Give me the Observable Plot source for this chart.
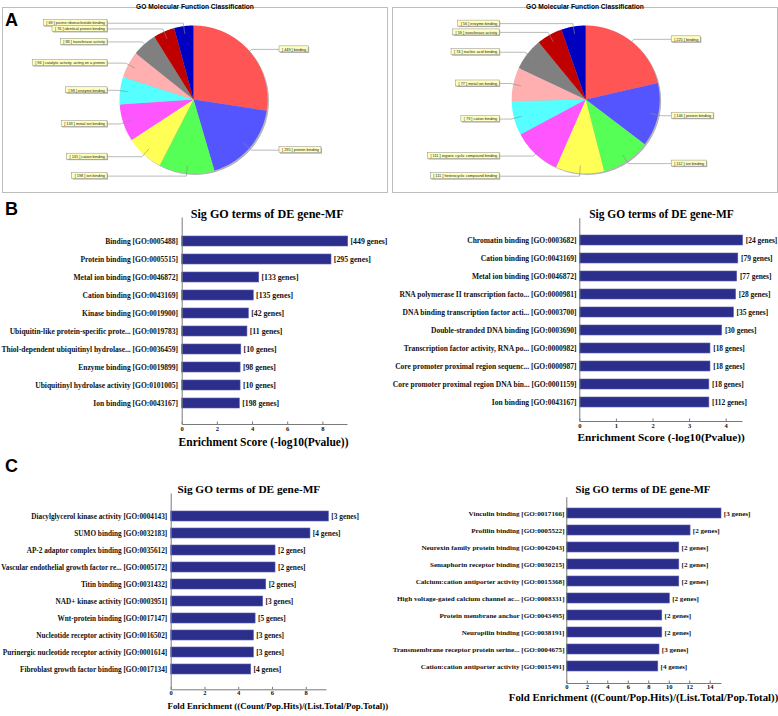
<!DOCTYPE html>
<html>
<head>
<meta charset="utf-8">
<script src="https://cdn.jsdelivr.net/npm/d3@7"></script>
<script src="https://cdn.jsdelivr.net/npm/@observablehq/plot@0.6"></script>
<style>
  body { margin: 0; background: #fff; }
  #root { position: relative; width: 778px; height: 716px; overflow: hidden; background: #fff; }
  .letter { position: absolute; font-family: "Liberation Sans", Arial, sans-serif; font-weight: bold; font-size: 18px; line-height: 18px; color: #000; }
</style>
</head>
<body>
<div id="root"></div>
<script>
// ---------- DATA ----------
const pieTitle = "GO Molecular Function Classification";
const pie1Names = ["binding", "protein binding", "ion binding", "cation binding", "metal ion binding", "enzyme binding", "catalytic activity, acting on a protein", "transferase activity", "identical protein binding", "purine ribonucleotide binding"];
const pie1Counts = [449, 295, 198, 135, 133, 98, 96, 88, 76, 69];
const pie2Names = ["binding", "protein binding", "ion binding", "heterocyclic compound binding", "organic cyclic compound binding", "cation binding", "metal ion binding", "nucleic acid binding", "transferase activity", "enzyme binding"];
const pie2Counts = [225, 146, 112, 111, 111, 79, 77, 74, 59, 56];
const pieColors = ["#ff5555", "#5555ff", "#55ff55", "#ffff55", "#ff55ff", "#55ffff", "#ffafaf", "#808080", "#c00000", "#0000c0"];

const barTitle = "Sig GO terms of DE gene-MF";
const bAxisLabel = "Enrichment Score (-log10(Pvalue))";
const cAxisLabel = "Fold Enrichment ((Count/Pop.Hits)/(List.Total/Pop.Total))";

const bLeftTerms = ["Binding [GO:0005488]", "Protein binding [GO:0005515]", "Metal ion binding [GO:0046872]", "Cation binding [GO:0043169]", "Kinase binding [GO:0019900]", "Ubiquitin-like protein-specific prote... [GO:0019783]", "Thiol-dependent ubiquitinyl hydrolase... [GO:0036459]", "Enzyme binding [GO:0019899]", "Ubiquitinyl hydrolase activity [GO:0101005]", "Ion binding [GO:0043167]"];
const bLeftScores = [9.44, 8.49, 4.38, 4.07, 3.79, 3.71, 3.36, 3.32, 3.32, 3.28];
const bLeftGenes = [449, 295, 133, 135, 42, 11, 10, 98, 10, 198];
const bLeftTicks = [0, 2, 4, 6, 8];

const bRightTerms = ["Chromatin binding [GO:0003682]", "Cation binding [GO:0043169]", "Metal ion binding [GO:0046872]", "RNA polymerase II transcription facto... [GO:0000981]", "DNA binding transcription factor acti... [GO:0003700]", "Double-stranded DNA binding [GO:0003690]", "Transcription factor activity, RNA po... [GO:0000982]", "Core promoter proximal region sequenc... [GO:0000987]", "Core promoter proximal region DNA bin... [GO:0001159]", "Ion binding [GO:0043167]"];
const bRightScores = [4.46, 4.33, 4.30, 4.27, 4.21, 3.89, 3.57, 3.57, 3.54, 3.54];
const bRightGenes = [24, 79, 77, 28, 35, 30, 18, 18, 18, 112];
const bRightTicks = [0, 1, 2, 3, 4];

const cLeftTerms = ["Diacylglycerol kinase activity [GO:0004143]", "SUMO binding [GO:0032183]", "AP-2 adaptor complex binding [GO:0035612]", "Vascular endothelial growth factor re... [GO:0005172]", "Titin binding [GO:0031432]", "NAD+ kinase activity [GO:0003951]", "Wnt-protein binding [GO:0017147]", "Nucleotide receptor activity [GO:0016502]", "Purinergic nucleotide receptor activity [GO:0001614]", "Fibroblast growth factor binding [GO:0017134]"];
const cLeftFold = [9.34, 8.25, 6.18, 6.18, 5.63, 5.45, 5.0, 4.9, 4.9, 4.74];
const cLeftGenes = [3, 4, 2, 2, 2, 3, 5, 3, 3, 4];
const cLeftTicks = [0, 2, 4, 6, 8];

const cRightTerms = ["Vinculin binding [GO:0017166]", "Profilin binding [GO:0005522]", "Neurexin family protein binding [GO:0042043]", "Semaphorin receptor binding [GO:0030215]", "Calcium:cation antiporter activity [GO:0015368]", "High voltage-gated calcium channel ac... [GO:0008331]", "Protein membrane anchor [GO:0043495]", "Neuropilin binding [GO:0038191]", "Transmembrane receptor protein serine... [GO:0004675]", "Cation:cation antiporter activity [GO:0015491]"];
const cRightFold = [15.1, 12.08, 10.98, 10.98, 10.98, 10.06, 9.32, 9.32, 9.05, 8.93];
const cRightGenes = [3, 2, 2, 2, 2, 2, 2, 2, 3, 4];
const cRightTicks = [0, 2, 4, 6, 8, 10, 12, 14];

// ---------- HELPERS ----------
const root = document.getElementById("root");
const ctx = document.createElement("canvas").getContext("2d");
function textW(s, size, family, weight) { ctx.font = `${weight} ${size}px ${family}`; return ctx.measureText(s).width; }
function fit(s, w, family, weight) { return w / textW(s, 100, family, weight) * 100; }
function place(el, left, top) {
  el.style.position = "absolute";
  el.style.left = left + "px";
  el.style.top = top + "px";
  el.style.maxWidth = "none";
  root.appendChild(el);
}
function letter(t, left, top) {
  const d = document.createElement("div");
  d.className = "letter"; d.textContent = t;
  d.style.left = left + "px"; d.style.top = top + "px";
  root.appendChild(d);
}

// ---------- PIE PANELS ----------
function piePanel(names, counts, o) {
  const R = o.R;
  const fam = '"Liberation Sans", Arial, sans-serif';
  const arcs = d3.pie().sort(null).value(d => d)(counts);
  const pts = [];
  arcs.forEach((a, i) => {
    pts.push({k: i, x: 0, y: 0});
    const n = Math.max(2, Math.ceil((a.endAngle - a.startAngle) * 60));
    for (let j = 0; j <= n; j++) {
      const t = a.startAngle + (a.endAngle - a.startAngle) * j / n;
      pts.push({k: i, x: Math.sin(t), y: Math.cos(t)});
    }
  });
  const fs = fit("[ 96 ] catalytic activity, acting on a protein", 70, fam, "normal");
  const labs = arcs.map((a, i) => {
    const m = (a.startAngle + a.endAngle) / 2;
    const s = Math.sin(m), c = Math.cos(m);
    const left = s < 0;
    const text = `[ ${counts[i]} ] ${names[i]}`;
    const bw = (textW(text, fs, fam, "normal") + 5) / R;
    const xe = (left ? -86 : 86) / R;
    const yc = 1.04 * c;
    return {k: i, s, c, text, xe, yc,
      x1: left ? xe - bw : xe, x2: left ? xe : xe + bw,
      y1: yc - 3 / R, y2: yc + 3 / R};
  });
  const lines = labs.flatMap(d => [
    {k: d.k, x: 0.9 * d.s, y: 0.9 * d.c},
    {k: d.k, x: 1.04 * d.s, y: 1.04 * d.c},
    {k: d.k, x: d.xe, y: d.yc}
  ]);
  const fx0 = o.left + o.mL, fx1 = o.left + o.width - o.mR;
  const fy0 = o.top + o.mT, fy1 = o.top + o.height - o.mB;
  const titleFs = fit(pieTitle, 118, fam, "bold");
  const p = Plot.plot({
    width: o.width, height: o.height,
    marginLeft: o.mL, marginRight: o.mR, marginTop: o.mT, marginBottom: o.mB,
    style: {background: "transparent", overflow: "visible"},
    x: {domain: [-(o.cx - fx0) / R, (fx1 - o.cx) / R], axis: null},
    y: {domain: [-(fy1 - o.cy) / R, (o.cy - fy0) / R], axis: null},
    color: {type: "ordinal", domain: d3.range(counts.length), range: pieColors},
    marks: [
      Plot.frame({stroke: "#bdbdbd"}),
      Plot.dot([{x: 0, y: 0}], {x: "x", y: "y", r: R, fill: "#b4b4b4", stroke: "none", dx: 1.5, dy: 1.5}),
      Plot.line(pts, {x: "x", y: "y", z: "k", fill: "k", stroke: "none"}),
      Plot.line(lines, {x: "x", y: "y", z: "k", stroke: "#8c8c8c", strokeWidth: 0.6}),
      Plot.rect(labs, {x1: "x1", x2: "x2", y1: "y1", y2: "y2", fill: "#b0b0b0", dx: 1, dy: 1}),
      Plot.rect(labs, {x1: "x1", x2: "x2", y1: "y1", y2: "y2", fill: "#ffffc0", stroke: "#8c8c8c", strokeWidth: 0.5}),
      Plot.text(labs, {x: d => (d.x1 + d.x2) / 2, y: "yc", text: "text", fontSize: fs, fontFamily: fam, fill: "#222"}),
      Plot.text([pieTitle], {frameAnchor: "top", dy: -3.5, text: d => d, fontSize: titleFs, fontWeight: "bold", fontFamily: fam, fill: "#000"})
    ]
  });
  place(p, o.left, o.top);
}

// ---------- BAR PANELS ----------
function barPanel(o) {
  const data = o.terms.map((t, i) => ({term: t, value: o.values[i], genes: o.genes[i]}));
  const W = o.width - o.mL - o.mR, H = o.height - o.mT - o.mB;
  const fam = '"Liberation Serif", "Times New Roman", serif';
  const labFs = fit(o.fitLabel, o.fitLabelW, fam, "bold");
  const geneFs = fit(o.fitGene, o.fitGeneW, fam, "bold");
  const titleFs = fit(barTitle, o.titleW, fam, "bold");
  const axFs = fit(o.axisLabel, o.axisLabelW, fam, "bold");
  const p = Plot.plot({
    width: o.width, height: o.height,
    marginLeft: o.mL, marginRight: o.mR, marginTop: o.mT, marginBottom: o.mB,
    style: {background: "transparent", overflow: "visible"},
    x: {domain: [0, o.xMax]},
    y: {domain: o.terms, paddingInner: o.pi, paddingOuter: o.po, align: o.align},
    marks: [
      Plot.barX(data, {x: "value", y: "term", fill: "#2c2e8c", stroke: "#5c5fae", strokeWidth: 0.6}),
      Plot.frame({stroke: "#7a7a7a", strokeDasharray: `0 ${W + H} ${W + H} 0`}),
      Plot.ruleX(o.ticks, {insetTop: H - 2.5, stroke: "#7a7a7a"}),
      Plot.axisY({tickSize: 0, tickPadding: o.yPad, fontSize: labFs, fontWeight: "bold", fontFamily: fam, label: null, fill: "#111"}),
      Plot.axisX(o.ticks, {tickSize: 0, tickPadding: o.xPad, fontSize: 6.5, fontWeight: "bold", fontFamily: fam, label: null, fill: "#111"}),
      Plot.text(data, {x: "value", y: "term", text: d => `[${d.genes} genes]`, textAnchor: "start", dx: o.gDx, fontSize: geneFs, fontWeight: "bold", fontFamily: fam, fill: "#111"}),
      Plot.text([barTitle], {frameAnchor: "top", text: d => d, dx: o.tDx, dy: o.tDy, fontSize: titleFs, fontWeight: "bold", fontFamily: fam, fill: "#000"}),
      Plot.text([o.axisLabel], {frameAnchor: "bottom", text: d => d, dx: o.aDx, dy: o.aDy, fontSize: axFs, fontWeight: "bold", fontFamily: fam, fill: "#000"})
    ]
  });
  place(p, o.left, o.top);
}

// ---------- BUILD ----------
piePanel(pie1Names, pie1Counts, {left: 0, top: 0, width: 390, height: 195, mL: 2, mR: 3, mT: 7, mB: 3, cx: 193, cy: 99, R: 74});
piePanel(pie2Names, pie2Counts, {left: 390, top: 0, width: 388, height: 195, mL: 2, mR: 1, mT: 7, mB: 3, cx: 585.2, cy: 99, R: 74});

barPanel({terms: bLeftTerms, values: bLeftScores, genes: bLeftGenes, ticks: bLeftTicks, xMax: 9.40, axisLabel: bAxisLabel,
  left: 0, top: 200, width: 390, height: 255, mL: 181.7, mR: 43, mT: 17, mB: 31,
  pi: 0.441, po: 0.73, align: 0.555,
  fitLabel: bLeftTerms[6], fitLabelW: 177, yPad: 4.1,
  fitGene: "[449 genes]", fitGeneW: 37, gDx: 2.3,
  titleW: 153, tDx: 2.3, tDy: -8,
  axisLabelW: 170, aDx: -1.3, aDy: 21.5, xPad: 2});

barPanel({terms: bRightTerms, values: bRightScores, genes: bRightGenes, ticks: bRightTicks, xMax: 4.445, axisLabel: bAxisLabel,
  left: 390, top: 200, width: 388, height: 250, mL: 189.3, mR: 36, mT: 17.7, mB: 29,
  pi: 0.425, po: 0.672, align: 0.546,
  fitLabel: bRightTerms[8], fitLabelW: 184.3, yPad: 3.3,
  fitGene: "[112 genes]", fitGeneW: 35, gDx: 2.7,
  titleW: 144.7, tDx: 0.3, tDy: -8,
  axisLabelW: 167.6, aDx: 0, aDy: 19, xPad: 2.2});

barPanel({terms: cLeftTerms, values: cLeftFold, genes: cLeftGenes, ticks: cLeftTicks, xMax: 9.2, axisLabel: cAxisLabel,
  left: 0, top: 474, width: 390, height: 242, mL: 170.7, mR: 64, mT: 19, mB: 26.7,
  pi: 0.385, po: 0.679, align: 0.543,
  fitLabel: cLeftTerms[3], fitLabelW: 166.5, yPad: 4,
  fitGene: "[3 genes]", fitGeneW: 27.7, gDx: 2.4,
  titleW: 143, tDx: 0, tDy: -8.5,
  axisLabelW: 221, aDx: 29, aDy: 18.7, xPad: 0.8});

barPanel({terms: cRightTerms, values: cRightFold, genes: cRightGenes, ticks: cRightTicks, xMax: 15.1, axisLabel: cAxisLabel,
  left: 390, top: 474, width: 388, height: 242, mL: 176.3, mR: 57, mT: 22.7, mB: 33,
  pi: 0.393, po: 0.483, align: 0.509,
  fitLabel: cRightTerms[8], fitLabelW: 172.3, yPad: 2.3,
  fitGene: "[3 genes]", fitGeneW: 26.7, gDx: 2.3,
  titleW: 135, tDx: -1.2, tDy: -12.2,
  axisLabelW: 270, aDx: -0.6, aDy: 17.5, xPad: 0.5});

letter("A", 5, 10.8);
letter("B", 5, 199.8);
letter("C", 5, 456.8);
</script>
</body>
</html>
